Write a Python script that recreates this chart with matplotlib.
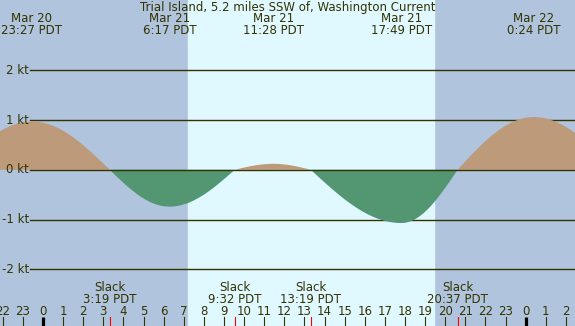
import numpy as np
import matplotlib
matplotlib.use("Agg")
import matplotlib.pyplot as plt

# events, hours from Mar 21 00:00 PDT
event_hours = [-4.4, -0.55, 3.317, 6.283, 9.533, 11.467, 13.317, 17.817, 20.617, 24.4, 28.45]
event_knots = [0.0, 0.97, 0.0, -0.74, 0.0, 0.12, 0.0, -1.07, 0.0, 1.06, 0.0]

peak_hours = [-0.55, 6.283, 11.467, 17.817, 24.4]
peak_dates = ["Mar 20", "Mar 21", "Mar 21", "Mar 21", "Mar 22"]
peak_times = ["23:27 PDT", "6:17 PDT", "11:28 PDT", "17:49 PDT", "0:24 PDT"]

slack_hours = [3.317, 9.533, 13.317, 20.617]
slack_times = ["3:19 PDT", "9:32 PDT", "13:19 PDT", "20:37 PDT"]

sunrise, sunset = 7.22, 19.44
kt_levels = [2, 1, 0, -1, -2]
hour_ticks = list(range(-2, 27))

title = "Trial Island, 5.2 miles SSW of, Washington Current"

NIGHT = "#b0c4de"
DAY = "#e0f8ff"
FLOOD = "#bd9a7a"
EBB = "#529672"
INK = "#333300"
FS = 8.5

# smooth quarter-cosine between each event (max/min <-> slack)
t = np.linspace(-2.2, 26.5, 2000)
v = np.zeros_like(t)
for i in range(len(event_hours) - 1):
    t0, t1 = event_hours[i], event_hours[i + 1]
    a, b = event_knots[i], event_knots[i + 1]
    m = (t >= t0) & (t <= t1)
    f = (t[m] - t0) / (t1 - t0)
    if a == 0:
        v[m] = b * np.sin(np.pi / 2 * f)
    else:
        v[m] = a * np.cos(np.pi / 2 * f)

fig = plt.figure(figsize=(5.75, 3.26), dpi=100)
ax = fig.add_axes([0, 0, 1, 1])
ax.set_xlim(-2.138, 26.454)
ax.set_ylim(-3.140, 3.413)
ax.axis("off")
fig.patch.set_facecolor(NIGHT)

ax.axvspan(sunrise, sunset, color=DAY, zorder=0)

for k in kt_levels:
    ax.axhline(k, xmin=30 / 575, xmax=1, color=INK, lw=1.0,
               zorder=3 if k == 0 else 1)
    ax.text(-0.7, k, f"{k} kt", ha="right", va="center", fontsize=FS, color=INK)

ax.fill_between(t, 0, v, where=v >= 0, interpolate=True, color=FLOOD, lw=0, zorder=2)
ax.fill_between(t, 0, v, where=v <= 0, interpolate=True, color=EBB, lw=0, zorder=2)

xt = ax.get_xaxis_transform()
tick_len = 9 / 326
for h in hour_ticks:
    if h % 24 == 0:
        ax.plot([h, h], [0, tick_len], color="black", lw=2.3, transform=xt,
                solid_capstyle="butt", zorder=4)
    else:
        ax.plot([h, h], [0, tick_len], color=INK, lw=0.8, transform=xt, zorder=4)
    ax.text(h, 0.044, str(h % 24), ha="center", va="center", fontsize=FS,
            color=INK, transform=xt)

for h, s in zip(slack_hours, slack_times):
    ax.plot([h, h], [0, tick_len], color="red", lw=0.8, transform=xt, zorder=4)
    ax.text(h, 0.1175, "Slack", ha="center", va="center", fontsize=FS, color=INK,
            transform=xt)
    ax.text(h, 0.082, s, ha="center", va="center", fontsize=FS, color=INK,
            transform=xt)

for h, d, s in zip(peak_hours, peak_dates, peak_times):
    ax.text(h, 0.942, d, ha="center", va="center", fontsize=FS, color=INK,
            transform=xt)
    ax.text(h, 0.905, s, ha="center", va="center", fontsize=FS, color=INK,
            transform=xt)

fig.text(0.5, 0.978, title, ha="center", va="center", fontsize=FS, color=INK)

fig.savefig("out.png", dpi=100, facecolor=NIGHT)
